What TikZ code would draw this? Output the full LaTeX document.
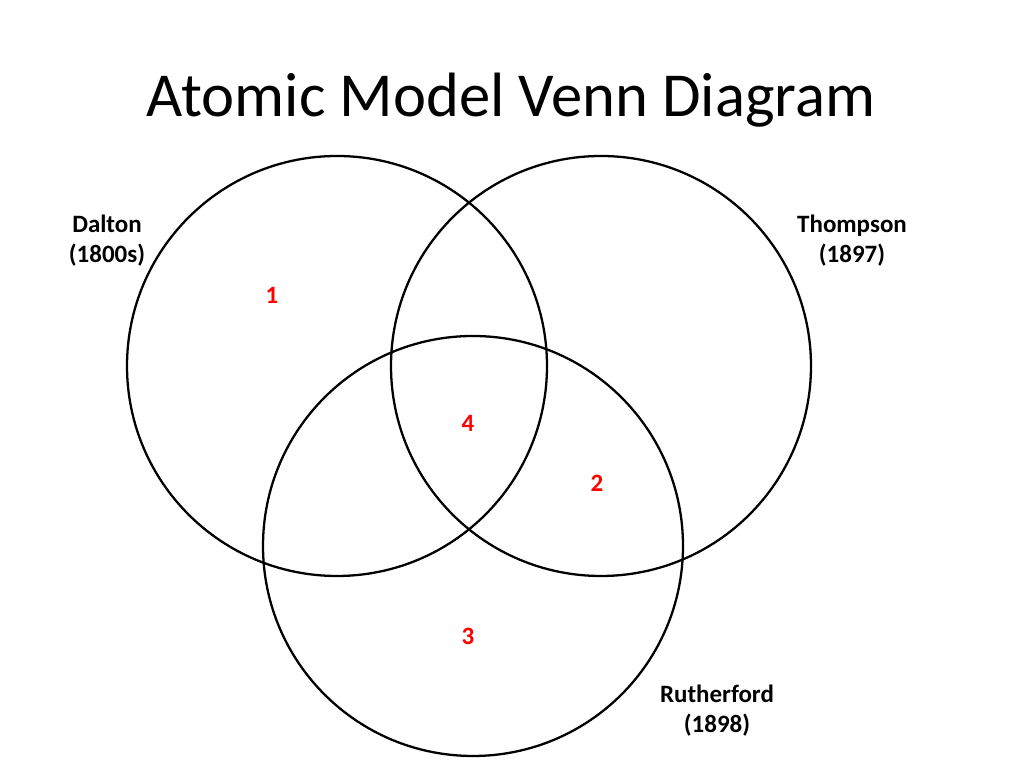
\documentclass[tikz,border=0pt]{standalone}
\usepackage{fontspec}
\setmainfont{Carlito}
\tikzset{
  ring/.style={draw, circle, line width=0.65pt, minimum size=420*0.01cm, inner sep=0pt},
  lab/.style={font=\fontsize{7.1}{8.6}\selectfont\bfseries, align=center},
  num/.style={font=\fontsize{7.1}{8.6}\selectfont\bfseries, text=red}
}
\begin{document}
\begin{tikzpicture}[x=0.01cm,y=-0.01cm]
    \useasboundingbox (0,0) rectangle (1024,768);
    \node (Title) at (511,100) {\fontsize{17.8}{20}\selectfont Atomic Model Venn Diagram};
    % the three rings
    \node[ring] (Dalt) at (337,366) {};
    \node[ring] (Thom) at (601,366) {};
    \node[ring] (Ruth) at (473,546) {};
    % labels
    \node[lab] (DaltL) at (107,241) {Dalton\\(1800s)};
    \node[lab] (ThomL) at (852,241) {Thompson\\(1897)};
    \node[lab] (RuthL) at (717,711) {Rutherford\\(1898)};
    % region numbers
    \node[num] (One) at (272,295) {1};
    \node[num] (Four) at (468,423) {4};
    \node[num] (Two) at (597,483) {2};
    \node[num] (Three) at (468,636) {3};
\end{tikzpicture}
\end{document}
